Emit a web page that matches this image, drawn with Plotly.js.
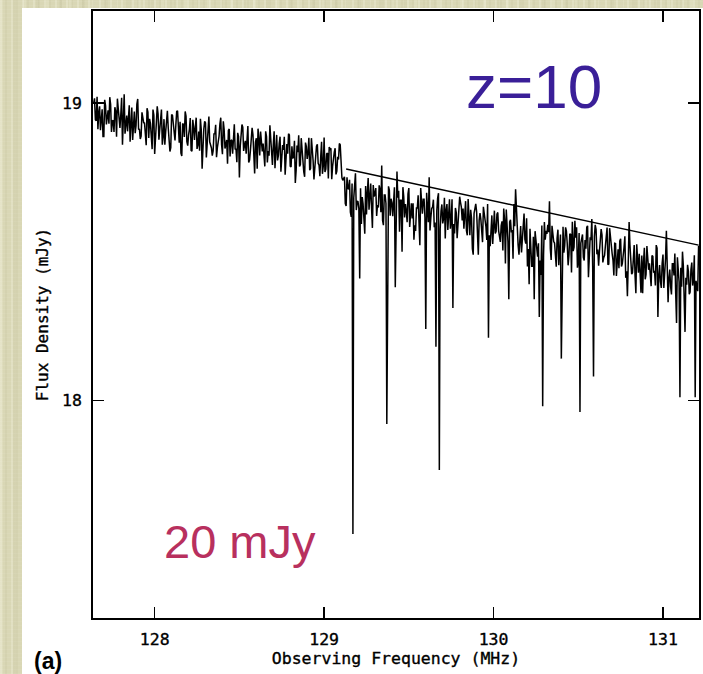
<!DOCTYPE html>
<html>
<head>
<meta charset="utf-8">
<script src="https://cdn.plot.ly/plotly-3.0.1.min.js"></script>
<style>
  html, body { margin: 0; padding: 0; width: 703px; height: 674px; overflow: hidden; }
  body {
    background-color: #d9d7b5;
    background-image:
      repeating-linear-gradient(90deg, rgba(255,255,240,0.22) 0 2px, rgba(0,0,0,0) 2px 5px, rgba(120,115,70,0.05) 5px 7px, rgba(0,0,0,0) 7px 11px),
      repeating-linear-gradient(90deg, rgba(255,255,235,0.14) 0 3px, rgba(0,0,0,0) 3px 13px, rgba(110,105,60,0.04) 13px 16px, rgba(0,0,0,0) 16px 23px),
      repeating-linear-gradient(0deg, rgba(255,255,255,0.06) 0 1px, rgba(0,0,0,0) 1px 4px);
  }
  #chart { position: absolute; left: 22px; top: 8px; width: 681px; height: 666px; }
  /* slightly heavier strokes for the axis lettering */
  #chart .xtick text, #chart .ytick text, #chart .xtitle, #chart .ytitle {
    stroke: #000000; stroke-width: 0.35px;
  }
</style>
</head>
<body>
<div id="chart"></div>
<script>
// Spectrum channels, stored as two interleaved sets.
// Set A: channels on the 0.01 MHz grid (MHz)
const freqSetA = [
  127.64,127.65,127.66,127.67,127.68,127.69,127.70,127.71,127.72,127.73,
  127.74,127.75,127.76,127.77,127.78,127.79,127.80,127.81,127.82,127.83,
  127.84,127.85,127.86,127.87,127.88,127.89,127.90,127.91,127.92,127.93,
  127.94,127.95,127.96,127.97,127.98,127.99,128.00,128.01,128.02,128.03,
  128.04,128.05,128.06,128.07,128.08,128.09,128.10,128.11,128.12,128.13,
  128.14,128.15,128.16,128.17,128.18,128.19,128.20,128.21,128.22,128.23,
  128.24,128.25,128.26,128.27,128.28,128.29,128.30,128.31,128.32,128.33,
  128.34,128.35,128.36,128.37,128.38,128.39,128.40,128.41,128.42,128.43,
  128.44,128.45,128.46,128.47,128.48,128.49,128.50,128.51,128.52,128.53,
  128.54,128.55,128.56,128.57,128.58,128.59,128.60,128.61,128.62,128.63,
  128.64,128.65,128.66,128.67,128.68,128.69,128.70,128.71,128.72,128.73,
  128.74,128.75,128.76,128.77,128.78,128.79,128.80,128.81,128.82,128.83,
  128.84,128.85,128.86,128.87,128.88,128.89,128.90,128.91,128.92,128.93,
  128.94,128.95,128.96,128.97,128.98,128.99,129.00,129.01,129.02,129.03,
  129.04,129.05,129.06,129.07,129.08,129.09,129.10,129.11,
  129.12,129.13,129.14,129.15,129.16,129.17,129.18,129.19,129.20,129.21,
  129.22,129.23,129.24,129.25,129.26,129.27,129.28,129.29,129.30,129.31,
  129.32,129.33,129.34,129.35,129.36,129.37,129.38,129.39,129.40,129.41,
  129.42,129.43,129.44,129.45,129.46,129.47,129.48,129.49,129.50,129.51,
  129.52,129.53,129.54,129.55,129.56,129.57,129.58,129.59,129.60,129.61,
  129.62,129.63,129.64,129.65,129.66,129.67,129.68,129.69,129.70,129.71,
  129.72,129.73,129.74,129.75,129.76,129.77,129.78,129.79,129.80,129.81,
  129.82,129.83,129.84,129.85,129.86,129.87,129.88,129.89,129.90,129.91,
  129.92,129.93,129.94,129.95,129.96,129.97,129.98,129.99,130.00,130.01,
  130.02,130.03,130.04,130.05,130.06,130.07,130.08,130.09,130.10,130.11,
  130.12,130.13,130.14,130.15,130.16,130.17,130.18,130.19,130.20,130.21,
  130.22,130.23,130.24,130.25,130.26,130.27,130.28,130.29,130.30,130.31,
  130.32,130.33,130.34,130.35,130.36,130.37,130.38,130.39,130.40,130.41,
  130.42,130.43,130.44,130.45,130.46,130.47,130.48,130.49,130.50,130.51,
  130.52,130.53,130.54,130.55,130.56,130.57,130.58,130.59,130.60,130.61,
  130.62,130.63,130.64,130.65,130.66,130.67,130.68,130.69,130.70,130.71,
  130.72,130.73,130.74,130.75,130.76,130.77,130.78,130.79,130.80,130.81,
  130.82,130.83,130.84,130.85,130.86,130.87,130.88,130.89,130.90,130.91,
  130.92,130.93,130.94,130.95,130.96,130.97,130.98,130.99,131.00,131.01,
  131.02,131.03,131.04,131.05,131.06,131.07,131.08,131.09,131.10,131.11,
  131.12,131.13,131.14,131.15,131.16,131.17,131.18,131.19,131.20,131.21
];

// Set A: flux density (mJy)
const fluxSetA = [
  19.000,18.944,19.021,18.968,18.909,18.979,18.888,18.992,18.963,18.931,
  18.996,18.940,18.903,18.972,19.015,18.929,18.961,18.860,19.030,18.943,
  18.905,18.993,18.953,18.876,18.972,18.924,19.014,18.913,18.889,18.956,
  18.933,18.858,18.970,18.947,18.890,18.978,18.829,18.935,18.963,18.906,
  18.978,18.888,18.860,18.946,18.917,18.837,18.962,18.933,18.874,18.972,
  18.889,18.937,18.822,18.928,18.972,18.870,18.892,18.950,18.838,18.918,
  18.920,18.846,18.904,18.947,18.779,18.913,18.933,18.872,18.955,18.856,
  18.823,18.898,18.927,18.850,18.889,18.951,18.828,18.911,18.863,18.796,
  18.913,18.874,18.830,18.929,18.846,18.900,18.750,18.884,18.919,18.858,
  18.830,18.923,18.808,18.869,18.894,18.763,18.882,18.914,18.824,18.859,
  18.864,18.787,18.887,18.839,18.925,18.810,18.858,18.781,18.893,18.823,
  18.887,18.801,18.843,18.759,18.862,18.897,18.788,18.855,18.820,18.731,
  18.857,18.892,18.793,18.838,18.768,18.867,18.812,18.883,18.780,18.848,
  18.743,18.842,18.861,18.791,18.820,18.762,18.884,18.778,18.832,18.852,
  18.848,18.787,18.835,18.760,18.819,18.864,18.784,18.740,
  18.752,18.654,18.713,18.742,18.617,17.550,18.726,18.640,18.668,18.410,
  18.593,18.660,18.560,18.625,18.748,18.686,18.647,18.724,18.695,18.620,
  18.649,18.710,18.790,18.589,18.691,17.920,18.720,18.621,18.665,18.704,
  18.380,18.770,18.705,18.673,18.500,18.685,18.660,18.599,18.714,18.621,
  18.612,18.540,18.570,18.647,18.599,18.714,18.628,18.676,18.240,18.653,
  18.750,18.614,18.649,18.582,18.180,18.680,17.765,18.637,18.595,18.681,
  18.641,18.573,18.676,18.605,18.310,18.561,18.631,18.586,18.685,18.650,
  18.645,18.625,18.571,18.677,18.555,18.613,18.490,18.654,18.635,18.490,
  18.630,18.574,18.651,18.598,18.539,18.210,18.518,18.622,18.593,18.561,
  18.626,18.570,18.533,18.602,18.645,18.460,18.591,18.340,18.607,18.573,
  18.660,18.710,18.567,18.490,18.586,18.538,18.628,18.527,18.450,18.390,
  18.526,18.451,18.340,18.540,18.483,18.280,18.422,17.980,18.600,18.570,
  18.590,18.670,18.472,18.558,18.529,18.449,18.574,18.545,18.140,18.584,
  18.521,18.569,18.454,18.560,18.430,18.502,18.604,18.582,18.470,17.960,
  18.555,18.481,18.539,18.582,18.414,18.548,18.610,18.080,18.590,18.491,
  18.453,18.528,18.557,18.480,18.519,18.581,18.458,18.541,18.493,18.420,
  18.527,18.488,18.444,18.543,18.460,18.514,18.412,18.350,18.600,18.472,
  18.429,18.522,18.360,18.468,18.493,18.362,18.360,18.513,18.423,18.458,
  18.461,18.384,18.484,18.436,18.522,18.280,18.455,18.378,18.490,18.420,
  18.570,18.330,18.440,18.356,18.459,18.494,18.260,18.452,18.010,18.382,
  18.453,18.230,18.389,18.434,18.364,18.463,18.408,18.010,18.376,18.520
];

// Set B: channels half-way between the set A channels (MHz)
const freqSetB = [
  127.645,127.655,127.665,127.675,127.685,127.695,127.705,127.715,127.725,127.735,
  127.745,127.755,127.765,127.775,127.785,127.795,127.805,127.815,127.825,127.835,
  127.845,127.855,127.865,127.875,127.885,127.895,127.905,127.915,127.925,127.935,
  127.945,127.955,127.965,127.975,127.985,127.995,128.005,128.015,128.025,128.035,
  128.045,128.055,128.065,128.075,128.085,128.095,128.105,128.115,128.125,128.135,
  128.145,128.155,128.165,128.175,128.185,128.195,128.205,128.215,128.225,128.235,
  128.245,128.255,128.265,128.275,128.285,128.295,128.305,128.315,128.325,128.335,
  128.345,128.355,128.365,128.375,128.385,128.395,128.405,128.415,128.425,128.435,
  128.445,128.455,128.465,128.475,128.485,128.495,128.505,128.515,128.525,128.535,
  128.545,128.555,128.565,128.575,128.585,128.595,128.605,128.615,128.625,128.635,
  128.645,128.655,128.665,128.675,128.685,128.695,128.705,128.715,128.725,128.735,
  128.745,128.755,128.765,128.775,128.785,128.795,128.805,128.815,128.825,128.835,
  128.845,128.855,128.865,128.875,128.885,128.895,128.905,128.915,128.925,128.935,
  128.945,128.955,128.965,128.975,128.985,128.995,129.005,129.015,129.025,129.035,
  129.045,129.055,129.065,129.075,129.085,129.095,129.105,129.115,
  129.125,129.135,129.145,129.155,129.165,129.175,129.185,129.195,129.205,129.215,
  129.225,129.235,129.245,129.255,129.265,129.275,129.285,129.295,129.305,129.315,
  129.325,129.335,129.345,129.355,129.365,129.375,129.385,129.395,129.405,129.415,
  129.425,129.435,129.445,129.455,129.465,129.475,129.485,129.495,129.505,129.515,
  129.525,129.535,129.545,129.555,129.565,129.575,129.585,129.595,129.605,129.615,
  129.625,129.635,129.645,129.655,129.665,129.675,129.685,129.695,129.705,129.715,
  129.725,129.735,129.745,129.755,129.765,129.775,129.785,129.795,129.805,129.815,
  129.825,129.835,129.845,129.855,129.865,129.875,129.885,129.895,129.905,129.915,
  129.925,129.935,129.945,129.955,129.965,129.975,129.985,129.995,130.005,130.015,
  130.025,130.035,130.045,130.055,130.065,130.075,130.085,130.095,130.105,130.115,
  130.125,130.135,130.145,130.155,130.165,130.175,130.185,130.195,130.205,130.215,
  130.225,130.235,130.245,130.255,130.265,130.275,130.285,130.295,130.305,130.315,
  130.325,130.335,130.345,130.355,130.365,130.375,130.385,130.395,130.405,130.415,
  130.425,130.435,130.445,130.455,130.465,130.475,130.485,130.495,130.505,130.515,
  130.525,130.535,130.545,130.555,130.565,130.575,130.585,130.595,130.605,130.615,
  130.625,130.635,130.645,130.655,130.665,130.675,130.685,130.695,130.705,130.715,
  130.725,130.735,130.745,130.755,130.765,130.775,130.785,130.795,130.805,130.815,
  130.825,130.835,130.845,130.855,130.865,130.875,130.885,130.895,130.905,130.915,
  130.925,130.935,130.945,130.955,130.965,130.975,130.985,130.995,131.005,131.015,
  131.025,131.035,131.045,131.055,131.065,131.075,131.085,131.095,131.105,131.115,
  131.125,131.135,131.145,131.155,131.165,131.175,131.185,131.195,131.205
];

// Set B: flux density (mJy)
const fluxSetB = [
  19.016,18.941,18.912,18.989,18.950,18.888,19.011,18.928,18.976,19.020,
  18.903,18.942,18.986,18.887,18.970,18.916,19.018,18.932,18.897,18.958,
  18.963,18.870,18.985,18.924,18.899,18.997,18.911,18.879,18.969,18.934,
  18.906,18.983,18.883,18.931,18.845,18.960,18.912,18.989,18.877,18.947,
  18.860,18.946,18.904,18.974,18.885,18.850,18.959,18.892,18.927,18.974,
  18.867,18.832,18.931,18.886,18.956,18.857,18.912,18.841,18.944,18.876,
  18.951,18.859,18.840,18.910,18.881,18.939,18.817,18.923,18.869,18.849,
  18.839,18.895,18.818,18.871,18.930,18.860,18.939,18.847,18.876,18.908,
  18.820,18.876,18.913,18.844,18.801,18.887,18.855,18.928,18.839,18.873,
  18.888,18.800,18.840,18.917,18.821,18.869,18.779,18.880,18.904,18.837,
  18.837,18.905,18.800,18.823,18.880,18.792,18.905,18.835,18.807,18.864,
  18.769,18.859,18.887,18.801,18.830,18.893,18.785,18.814,18.873,18.775,
  18.835,18.787,18.882,18.796,18.752,18.854,18.832,18.774,18.882,18.806,
  18.781,18.855,18.797,18.754,18.870,18.788,18.768,18.829,18.746,18.845,
  18.744,18.819,18.848,18.771,18.810,18.860,18.749,18.745,
  18.662,18.750,18.710,18.633,18.729,18.681,18.764,18.670,18.646,18.713,
  18.684,18.609,18.721,18.698,18.641,18.729,18.580,18.686,18.714,18.657,
  18.723,18.633,18.605,18.691,18.662,18.582,18.707,18.678,18.619,18.717,
  18.634,18.682,18.567,18.673,18.717,18.615,18.637,18.695,18.583,18.663,
  18.663,18.589,18.647,18.690,18.522,18.656,18.676,18.615,18.698,18.599,
  18.571,18.646,18.675,18.598,18.637,18.697,18.576,18.659,18.611,18.544,
  18.660,18.621,18.577,18.676,18.593,18.647,18.545,18.631,18.666,18.605,
  18.577,18.670,18.555,18.616,18.641,18.510,18.629,18.661,18.571,18.606,
  18.609,18.532,18.632,18.584,18.660,18.555,18.603,18.526,18.638,18.568,
  18.632,18.546,18.588,18.504,18.607,18.642,18.533,18.600,18.565,18.476,
  18.586,18.621,18.522,18.567,18.497,18.596,18.541,18.612,18.509,18.577,
  18.451,18.550,18.569,18.499,18.528,18.470,18.588,18.486,18.540,18.560,
  18.566,18.510,18.587,18.534,18.475,18.545,18.454,18.558,18.529,18.497,
  18.582,18.526,18.489,18.558,18.601,18.515,18.547,18.446,18.563,18.529,
  18.558,18.470,18.510,18.587,18.491,18.539,18.449,18.550,18.574,18.507,
  18.501,18.576,18.464,18.487,18.544,18.456,18.579,18.499,18.471,18.528,
  18.418,18.508,18.536,18.450,18.479,18.552,18.434,18.463,18.522,18.424,
  18.468,18.420,18.525,18.429,18.385,18.487,18.465,18.407,18.519,18.439,
  18.413,18.487,18.429,18.386,18.512,18.420,18.400,18.461,18.378,18.477,
  18.486,18.411,18.382,18.459,18.420,18.358,18.481,18.398,18.446,18.500,
  18.373,18.412,18.456,18.357,18.440,18.386,18.488,18.402,18.367
];

// Unabsorbed continuum level
const contFreqMHz = [129.13, 131.21];
const contFluxMJy = [18.778, 18.522];

// Axis ticks
const xTickVals = [128, 129, 130, 131];
const xTickText = ['128', '129', '130', '131'];
const yTickVals = [18, 19];
const yTickText = ['18', '19'];

// Merge both channel sets into one frequency-ordered spectrum
const spectrum = freqSetA.map((f, i) => [f, fluxSetA[i]])
  .concat(freqSetB.map((f, i) => [f, fluxSetB[i]]))
  .sort((a, b) => a[0] - b[0]);

const axisFont = 'DejaVu Sans Mono, Liberation Mono, monospace';

const traces = [
  {
    x: spectrum.map(p => p[0]), y: spectrum.map(p => p[1]),
    type: 'scatter', mode: 'lines',
    line: { color: '#000000', width: 1.5 }, hoverinfo: 'skip'
  },
  {
    x: contFreqMHz, y: contFluxMJy, type: 'scatter', mode: 'lines',
    line: { color: '#000000', width: 1.5 }, hoverinfo: 'skip'
  }
];

const axisCommon = {
  ticks: 'inside', ticklen: 11, tickwidth: 1.3, tickcolor: '#000000',
  showline: true, linecolor: '#000000', linewidth: 1.8, mirror: 'ticks',
  showgrid: false, zeroline: false,
  tickfont: { family: axisFont, size: 16.5, color: '#000000' }
};

const layout = {
  width: 681, height: 666,
  margin: { l: 71, r: 4, t: 3, b: 56 },
  paper_bgcolor: '#ffffff', plot_bgcolor: '#ffffff',
  showlegend: false,
  font: { family: axisFont, size: 16, color: '#000000' },
  xaxis: Object.assign({}, axisCommon, {
    range: [127.636, 131.2125],
    tickmode: 'array', tickvals: xTickVals, ticktext: xTickText,
    ticklabelstandoff: 5,
    title: { text: 'Observing Frequency (MHz)', font: { family: axisFont, size: 16.5, color: '#000000' }, standoff: 4 }
  }),
  yaxis: Object.assign({}, axisCommon, {
    range: [17.267, 19.31],
    tickmode: 'array', tickvals: yTickVals, ticktext: yTickText,
    ticklabelstandoff: 6,
    title: { text: 'Flux Density (mJy)', font: { family: axisFont, size: 16, color: '#000000' }, standoff: 9 }
  }),
  annotations: [
    {
      text: 'z=10', xref: 'paper', yref: 'paper', x: 0.727, y: 0.8756,
      xanchor: 'center', yanchor: 'middle', showarrow: false,
      font: { family: 'Liberation Sans, Arial, sans-serif', size: 62, color: '#3a1f98' }
    },
    {
      text: '20 mJy', xref: 'paper', yref: 'paper', x: 0.2421, y: 0.1253,
      xanchor: 'center', yanchor: 'middle', showarrow: false,
      font: { family: 'Liberation Sans, Arial, sans-serif', size: 47, color: '#b8305e' }
    },
    {
      text: '<b>(a)</b>', xref: 'paper', yref: 'paper', x: -0.0743, y: -0.0714,
      xanchor: 'center', yanchor: 'middle', showarrow: false,
      font: { family: 'Liberation Sans, Arial, sans-serif', size: 23, color: '#000000' }
    }
  ]
};

Plotly.newPlot('chart', traces, layout, { staticPlot: true, displayModeBar: false });
</script>
</body>
</html>
